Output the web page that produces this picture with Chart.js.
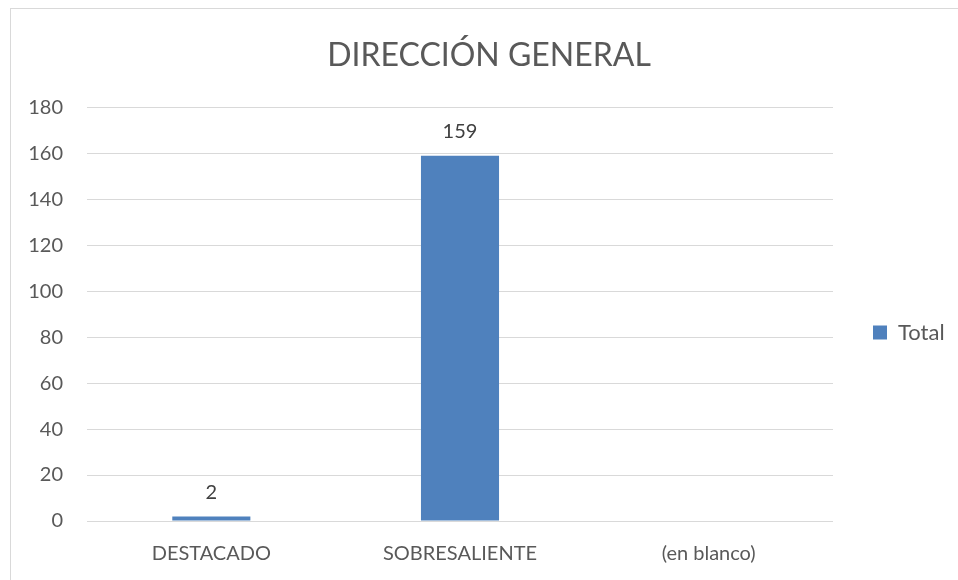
<!DOCTYPE html>
<html>
<head>
<meta charset="utf-8">
<script src="https://cdn.jsdelivr.net/npm/chart.js@4"></script>
<style>
  html, body { margin: 0; padding: 0; background: #fff; }
  #wrap { width: 958px; height: 580px; }
</style>
</head>
<body>
<div id="wrap"><canvas id="myChart" width="958" height="580"></canvas></div>
<script>
var categories = ['DESTACADO', 'SOBRESALIENTE', '(en blanco)'];
var totals = [2, 159, null];
var yTicks = [0, 20, 40, 60, 80, 100, 120, 140, 160, 180];

var txt = '#595959';

// frame around the chart, like the spreadsheet chart box
var frame = {
    id: 'frame',
    beforeLayout: function (chart) {
        // fixed legend column width so the plot ends where the original does
        var lg = chart.legend;
        if (lg && !lg._fixedFit) {
            var fit = lg.fit;
            lg.fit = function () { fit.call(this); this.width = 125; };
            lg._fixedFit = true;
        }
    },
    afterLayout: function (chart) {
        // legend sits a bit below the plot's middle in the original
        if (chart.legend) { chart.legend.top += 25; chart.legend.bottom += 25; }
    },
    beforeDraw: function (chart) {
        var c = chart.ctx;
        c.save();
        c.fillStyle = '#fff';
        c.fillRect(0, 0, chart.width, chart.height);
        c.strokeStyle = '#d9d9d9';
        c.lineWidth = 1;
        c.strokeRect(10.5, 8.5, chart.width + 20, chart.height + 20);
        c.restore();
    }
};

// value labels on top of bars
var barLabels = {
    id: 'barLabels',
    afterDatasetsDraw: function (chart) {
        var c = chart.ctx;
        var meta = chart.getDatasetMeta(0);
        c.save();
        c.font = '20px Lato';
        c.fillStyle = '#404040';
        c.textAlign = 'center';
        c.textBaseline = 'middle';
        meta.data.forEach(function (bar, i) {
            var v = chart.data.datasets[0].data[i];
            if (v === null) return;
            c.fillText(v, bar.x, bar.y - 24);
        });
        c.restore();
    }
};

var ctx = document.getElementById('myChart').getContext('2d');
new Chart(ctx, {
    type: 'bar',
    data: {
        labels: categories,
        datasets: [{
            label: 'Total',
            data: totals,
            backgroundColor: '#4f81bd',
            borderWidth: 0,
            barPercentage: 0.314,
            categoryPercentage: 1
        }]
    },
    options: {
        responsive: false,
        animation: false,
        layout: { padding: { left: 20, right: 0, top: 36, bottom: 1 } },
        plugins: {
            title: {
                display: true,
                text: 'DIRECCIÓN GENERAL',
                color: txt,
                font: { family: 'Lato', size: 32, weight: 'normal' },
                padding: { top: 0, bottom: 33 }
            },
            legend: {
                position: 'right',
                labels: {
                    color: txt,
                    font: { family: 'Lato', size: 22 },
                    boxWidth: 14,
                    boxHeight: 14,
                    padding: 40
                }
            },
            tooltip: { enabled: false }
        },
        scales: {
            x: {
                grid: { display: false },
                border: { display: false },
                ticks: { color: txt, font: { family: 'Lato', size: 20 }, padding: 13 }
            },
            y: {
                min: 0,
                max: 180,
                afterBuildTicks: function (scale) {
                    scale.ticks = yTicks.map(function (v) { return { value: v }; });
                },
                afterFit: function (scale) { scale.width = 67; },
                grid: { color: '#d9d9d9', drawTicks: false },
                border: { display: false },
                ticks: { color: txt, font: { family: 'Lato', size: 20 }, padding: 24 }
            }
        }
    },
    plugins: [frame, barLabels]
});
</script>
</body>
</html>
